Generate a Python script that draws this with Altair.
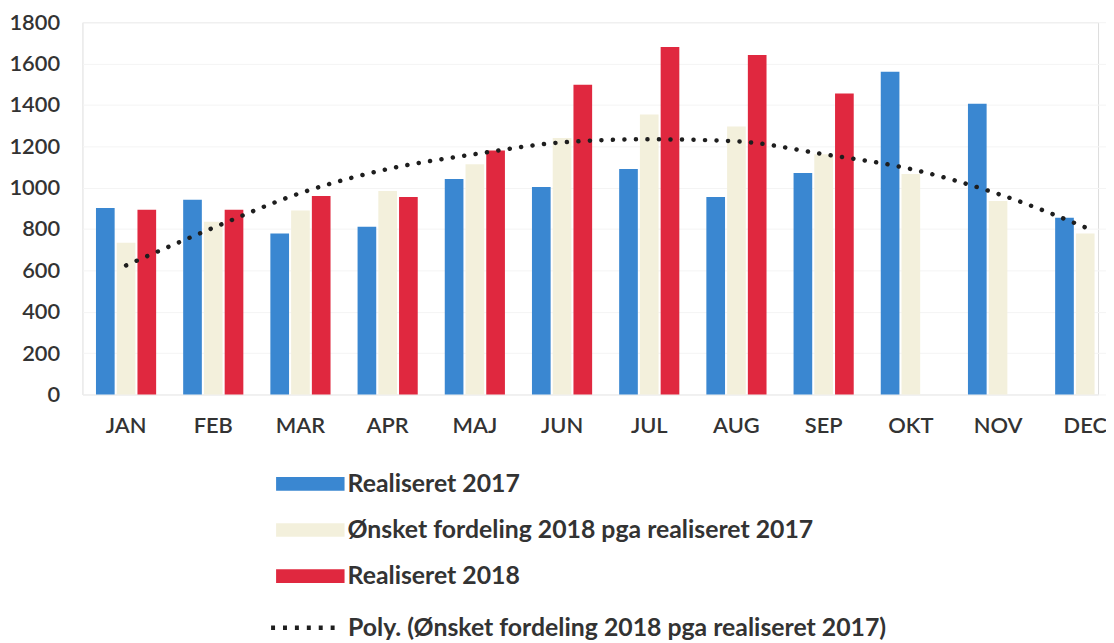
import altair as alt
import pandas as pd

months = ["JAN", "FEB", "MAR", "APR", "MAJ", "JUN", "JUL", "AUG", "SEP", "OKT", "NOV", "DEC"]
realiseret_2017 = [902, 941, 778, 811, 1042, 1003, 1090, 955, 1071, 1560, 1406, 854]
oensket_2018 = [734, 835, 890, 984, 1113, 1240, 1354, 1296, 1162, 1066, 936, 778]
realiseret_2018 = [893, 893, 960, 955, 1180, 1498, 1680, 1642, 1455, None, None, None]
trend_poly = [624, 806, 974, 1090, 1162, 1219, 1234, 1224, 1162, 1090, 970, 808]

series_names = [
    "Realiseret 2017",
    "Ønsket fordeling 2018 pga realiseret 2017",
    "Realiseret 2018",
]
trend_name = "Poly. (Ønsket fordeling 2018 pga realiseret 2017)"
bar_colors = ["#3a87d1", "#f3f0dc", "#e0283f"]
y_ticks = [0, 200, 400, 600, 800, 1000, 1200, 1400, 1600, 1800]

FONT = "Lato"

rows = []
for i, m in enumerate(months):
    for name, vals in zip(series_names, [realiseret_2017, oensket_2018, realiseret_2018]):
        if vals[i] is not None:
            rows.append({"month": m, "series": name, "value": vals[i]})
bars_df = pd.DataFrame(rows)
trend_df = pd.DataFrame({"month": months, "value": trend_poly, "trend": [trend_name] * len(months)})

x_scale = alt.Scale(range=[0, 1054], paddingInner=0.31, paddingOuter=0.155)
x_axis = alt.Axis(
    title=None, labelAngle=0, ticks=False, domain=False, grid=False,
    labelFont=FONT, labelFontSize=22, labelFontWeight=600, labelColor="#333333",
    labelPadding=21,
)
y_scale = alt.Scale(domain=[0, 1800], nice=False)
y_axis = alt.Axis(
    title=None, values=y_ticks, format="d", ticks=False, domain=False, grid=True,
    gridColor="#f4f4f4", labelFont=FONT, labelFontSize=22, labelFontWeight=600,
    labelColor="#333333", labelPadding=23,
)

bars = alt.Chart(bars_df).mark_bar().encode(
    x=alt.X("month:N", sort=months, scale=x_scale, axis=x_axis),
    xOffset=alt.XOffset("series:N", sort=series_names,
                        scale=alt.Scale(paddingInner=0.1, paddingOuter=0)),
    y=alt.Y("value:Q", scale=y_scale, axis=y_axis),
    color=alt.Color(
        "series:N",
        sort=series_names,
        scale=alt.Scale(domain=series_names, range=bar_colors),
        legend=alt.Legend(
            title=None, orient="none", legendX=195, legendY=452, direction="vertical",
            symbolType="M-1,-0.2H1V0.2H-1Z", symbolSize=4761, symbolStrokeWidth=0,
            symbolOpacity=1, clipHeight=26, rowPadding=20.5, padding=0,
            labelFont=FONT, labelFontSize=25, labelFontWeight="bold",
            labelColor="#333333", labelOffset=3, labelLimit=800,
        ),
    ),
)

trend = alt.Chart(trend_df).mark_line(
    strokeDash=[0.1, 11.5], strokeCap="round", strokeWidth=4.5, interpolate="monotone"
).encode(
    x=alt.X("month:N", sort=months, scale=x_scale, axis=x_axis),
    y=alt.Y("value:Q", scale=y_scale, axis=y_axis),
    stroke=alt.Stroke(
        "trend:N",
        scale=alt.Scale(domain=[trend_name], range=["#1e1e1e"]),
        legend=alt.Legend(
            title=None, orient="none", legendX=187.5, legendY=597,
            symbolType="stroke", symbolSize=4624, symbolStrokeWidth=4.5,
            symbolDash=[4, 8], clipHeight=26, padding=0,
            labelFont=FONT, labelFontSize=25, labelFontWeight="bold",
            labelColor="#333333", labelOffset=7, labelLimit=900,
        ),
    ),
)

chart = alt.layer(bars, trend).properties(
    width=1023,
    height=375,
    autosize=alt.AutoSizeParams(type="none"),
    padding={"left": 75, "top": 12, "right": 8, "bottom": 248},
).configure_view(stroke=None).configure(background="white")

chart.save("out.html", embed_options={"renderer": "svg", "actions": False})
